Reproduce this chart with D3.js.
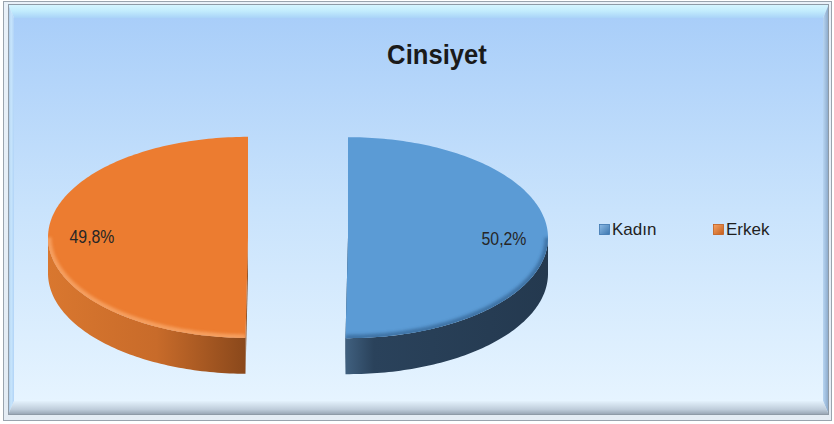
<!DOCTYPE html>
<html><head><meta charset="utf-8">
<script src="https://cdn.jsdelivr.net/npm/d3@7"></script>
<style>body{margin:0;background:#fff}svg{display:block}</style>
</head><body><svg id="c" width="834" height="424"></svg>
<script>
const title = "Cinsiyet";
const categories = ["Kadın", "Erkek"];
const values = [50.2, 49.8];
const valueLabels = ["50,2%", "49,8%"];

const topColors = ["#5b9bd5", "#ec7c30"];
const rimColors = ["#3b6d9e", "#f7a568"];
const sideStops = [
  [["0", "#40607f"], ["0.14", "#2a425b"], ["1", "#24394f"]],
  [["0", "#d9772f"], ["0.55", "#c86b2a"], ["1", "#8a481b"]]
];
const legendStops = [["#8dbbe6", "#3c76ae"], ["#f6a365", "#c45d1a"]];

const svg = d3.select("#c");
const defs = svg.append("defs");

function lin(id, x1, y1, x2, y2, stops) {
  const g = defs.append("linearGradient").attr("id", id)
    .attr("x1", x1).attr("y1", y1).attr("x2", x2).attr("y2", y2);
  stops.forEach(s => g.append("stop").attr("offset", s[0]).attr("stop-color", s[1]));
}
lin("bg", 0, 0, 0, 1, [["0", "#a9cef9"], ["0.5", "#c9e3fc"], ["1", "#e6f4ff"]]);
lin("bvTop", 0, 0, 0, 1, [["0", "#d8f6ff"], ["0.5", "#c2ecfd"], ["1", "#a9d3f8"]]);
lin("bvLeft", 0, 0, 1, 0, [["0", "#9fbfe4"], ["0.5", "#c8e6fc"], ["1", "#b2d4f7"]]);
lin("bvRight", 0, 0, 1, 0, [["0", "#b7d5f2"], ["1", "#86a4c6"]]);
lin("bvBottom", 0, 0, 0, 1, [["0", "#e3f1fc"], ["0.6", "#bfcddb"], ["1", "#929fae"]]);
lin("outer", 0, 0, 0, 1, [["0", "#e9f1f9"], ["1", "#e4ecf4"]]);
sideStops.forEach((s, i) => lin("side" + i, 0, 0, 1, 0, s));
legendStops.forEach((s, i) => lin("leg" + i, 0, 0, 1, 1, [["0", s[0]], ["1", s[1]]]));

const blur = defs.append("filter").attr("id", "blur").attr("x", "-20%").attr("y", "-20%").attr("width", "140%").attr("height", "140%");
blur.append("feGaussianBlur").attr("stdDeviation", 1.8);

// Frame
svg.append("rect").attr("x", 3.5).attr("y", 1.5).attr("width", 828).attr("height", 419)
  .attr("fill", "url(#outer)").attr("stroke", "#9aa4ae");
const bx0 = 8, by0 = 4, bx1 = 829, by1 = 415;
const px0 = 14, py0 = 18, px1 = 823, py1 = 401;
const poly = pts => "M" + pts.map(p => p.join(",")).join("L") + "Z";
svg.append("path").attr("d", poly([[bx0, by0], [bx1, by0], [px1, py0], [px0, py0]])).attr("fill", "url(#bvTop)");
svg.append("path").attr("d", poly([[bx0, by0], [px0, py0], [px0, py1], [bx0, by1]])).attr("fill", "url(#bvLeft)");
svg.append("path").attr("d", poly([[bx1, by0], [bx1, by1], [px1, py1], [px1, py0]])).attr("fill", "url(#bvRight)");
svg.append("path").attr("d", poly([[bx0, by1], [px0, py1], [px1, py1], [bx1, by1]])).attr("fill", "url(#bvBottom)");
svg.append("rect").attr("x", bx0 + 0.5).attr("y", by0 + 0.5).attr("width", bx1 - bx0 - 1).attr("height", by1 - by0 - 1)
  .attr("fill", "none").attr("stroke", "#8e9aa6").attr("stroke-width", 1);
svg.append("rect").attr("x", px0).attr("y", py0).attr("width", px1 - px0).attr("height", py1 - py0)
  .attr("fill", "url(#bg)");

// Title
svg.append("text").attr("x", 437).attr("y", 64)
  .attr("text-anchor", "middle")
  .attr("font-family", "'Liberation Sans', Arial, sans-serif")
  .attr("font-weight", "bold").attr("font-size", 27)
  .attr("fill", "#1a1a1a")
  .attr("transform", "translate(437,0) scale(0.95,1) translate(-437,0)")
  .text(title);

// 3D pie
const cx0 = 298, cy = 237.5, rx = 200, ry = 100.5, depth = 36, explode = 50;
const arcs = d3.pie().sort(null).value(d => d)(values);
const color = d3.scaleOrdinal().domain(categories).range(topColors);

function pt(a, cx, cyy) { return [cx + rx * Math.sin(a), cyy - ry * Math.cos(a)]; }
function samples(a0, a1) {
  const n = Math.max(2, Math.ceil(Math.abs(a1 - a0) / 0.02));
  return d3.range(n + 1).map(i => a0 + (a1 - a0) * i / n);
}

const slices = arcs.map((d, i) => {
  const mid = (d.startAngle + d.endAngle) / 2;
  const cx = cx0 + explode * Math.sin(mid);
  const ccy = cy - explode * (ry / rx) * Math.cos(mid);
  return { d, i, mid, cx, cy: ccy };
});

const gSides = svg.append("g");
const gTops = svg.append("g");

slices.forEach(s => {
  const { d, i, cx } = s;
  const c = s.cy;
  [d.startAngle, d.endAngle].forEach(a => {
    const p = pt(a, cx, c);
    gSides.append("path")
      .attr("d", poly([[cx, c], p, [p[0], p[1] + depth], [cx, c + depth]]))
      .attr("fill", sideStops[i][2][1]);
  });
  const a0 = Math.max(d.startAngle, Math.PI / 2), a1 = Math.min(d.endAngle, 3 * Math.PI / 2);
  if (a0 < a1) {
    const topPts = samples(a0, a1).map(a => pt(a, cx, c));
    const botPts = topPts.slice().reverse().map(p => [p[0], p[1] + depth]);
    gSides.append("path").attr("d", poly(topPts.concat(botPts)))
      .attr("fill", "url(#side" + i + ")");
  }
  const arcPts = samples(d.startAngle, d.endAngle).map(a => pt(a, cx, c));
  const topD = poly([[cx, c]].concat(arcPts));
  defs.append("clipPath").attr("id", "clip" + i).append("path").attr("d", topD);
  gTops.append("path").attr("d", topD).attr("fill", color(categories[i]));
  if (a0 < a1) {
    const rim = samples(a0, a1).map(a => pt(a, cx, c));
    gTops.append("g").attr("clip-path", "url(#clip" + i + ")")
      .append("path")
      .attr("d", "M" + rim.map(p => p.join(",")).join("L"))
      .attr("fill", "none").attr("stroke", rimColors[i])
      .attr("stroke-width", 7).attr("opacity", 0.85)
      .attr("filter", "url(#blur)");
  }
  const lp = [cx + 0.78 * rx * Math.sin(s.mid), c - 0.78 * ry * Math.cos(s.mid)];
  gTops.append("text").attr("x", lp[0]).attr("y", lp[1] + 6.5)
    .attr("text-anchor", "middle")
    .attr("font-family", "'Liberation Sans', Arial, sans-serif")
    .attr("font-size", 18).attr("fill", "#262626")
    .attr("transform", `translate(${lp[0]},0) scale(0.88,1) translate(${-lp[0]},0)`)
    .text(valueLabels[i]);
});

// Legend
const legX = d3.scaleOrdinal().domain(categories).range([599, 713]);
categories.forEach((name, i) => {
  const x = legX(name);
  svg.append("rect").attr("x", x + 0.5).attr("y", 224.5).attr("width", 10).attr("height", 10)
    .attr("fill", "url(#leg" + i + ")").attr("stroke", legendStops[i][1]).attr("stroke-width", 0.8);
  svg.append("text").attr("x", x + 13).attr("y", 234.5)
    .attr("font-family", "'Liberation Sans', Arial, sans-serif")
    .attr("font-size", 17).attr("fill", "#1f1f1f")
    .text(name);
});
</script></body></html>
